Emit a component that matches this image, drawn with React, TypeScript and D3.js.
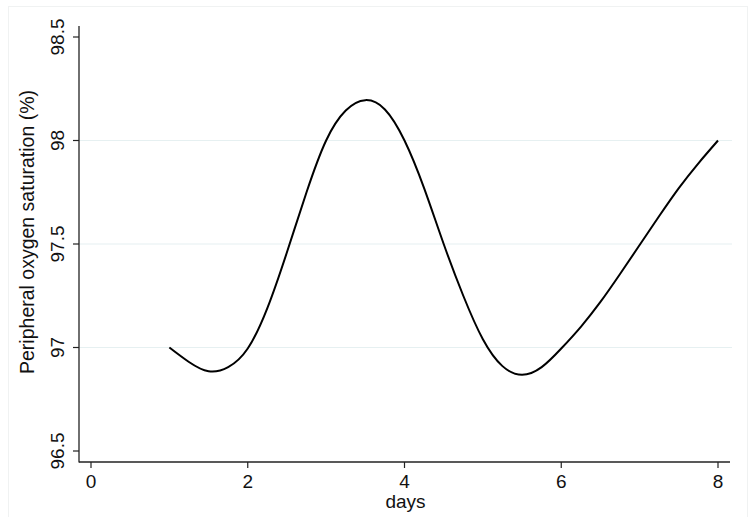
import React from "react";
import * as d3 from "d3";

const days = [1, 1.25, 1.5, 1.75, 2, 2.25, 2.5, 2.75, 3, 3.25, 3.5, 3.75, 4, 4.25, 4.5, 4.75, 5, 5.25, 5.5, 5.75, 6, 6.25, 6.5, 6.75, 7, 7.25, 7.5, 7.75, 8];
const spo2 = [97.0, 96.93, 96.885, 96.905, 96.995, 97.19, 97.46, 97.75, 98.0, 98.145, 98.195, 98.15, 98.0, 97.77, 97.5, 97.25, 97.04, 96.91, 96.868, 96.905, 96.995, 97.1, 97.22, 97.355, 97.495, 97.635, 97.77, 97.89, 98.0];
const xTicks = [0, 2, 4, 6, 8];
const yTicks = [96.5, 97, 97.5, 98, 98.5];
const gridValues = [97, 97.5, 98];
const xTitle = "days";
const yTitle = "Peripheral oxygen saturation (%)";

const W = 753;
const H = 517;

export default function App() {
  const x = d3.scaleLinear().domain([0, 8]).range([91, 718]);
  const y = d3.scaleLinear().domain([96.5, 98.5]).range([451, 37]);
  const plotLeft = 79;
  const plotRight = 730;
  const plotTop = 26;
  const plotBottom = 462;
  const pts: [number, number][] = days.map((d, i) => [d, spo2[i]]);
  const line = d3
    .line<[number, number]>()
    .x((d) => x(d[0]))
    .y((d) => y(d[1]))
    .curve(d3.curveNatural);
  const font = "'Liberation Sans', Arial, Helvetica, sans-serif";
  return (
    <svg
      width={W}
      height={H}
      style={{ position: "fixed", left: 0, top: 0, background: "#fff" }}
      fontFamily={font}
    >
      <rect x={0} y={0} width={W} height={H} fill="#fff" />
      <rect x={8.5} y={6.5} width={739} height={H} fill="none" stroke="#f0f2f2" strokeWidth={1} />
      {gridValues.map((v) => (
        <line key={v} x1={plotLeft} x2={plotRight + 2} y1={y(v)} y2={y(v)} stroke="#e6f0f1" strokeWidth={1.2} />
      ))}
      <line x1={plotLeft} x2={plotLeft} y1={plotTop} y2={plotBottom + 0.6} stroke="#222" strokeWidth={1.3} />
      <line x1={plotLeft} x2={plotRight} y1={plotBottom} y2={plotBottom} stroke="#222" strokeWidth={1.3} />
      {yTicks.map((v) => (
        <g key={v}>
          <line x1={plotLeft - 6} x2={plotLeft} y1={y(v)} y2={y(v)} stroke="#222" strokeWidth={1.2} />
          <text
            transform={`translate(${63.5},${y(v)}) rotate(-90)`}
            textAnchor="middle"
            fontSize={19}
            fill="#111"
          >
            {v}
          </text>
        </g>
      ))}
      {xTicks.map((v) => (
        <g key={v}>
          <line x1={x(v)} x2={x(v)} y1={plotBottom} y2={plotBottom + 6} stroke="#222" strokeWidth={1.2} />
          <text x={x(v)} y={487.5} textAnchor="middle" fontSize={19} fill="#111">
            {v}
          </text>
        </g>
      ))}
      <text x={(plotLeft + plotRight) / 2 + 1} y={507.5} textAnchor="middle" fontSize={19} fill="#111">
        {xTitle}
      </text>
      <text
        transform={`translate(${33.5},${232}) rotate(-90)`}
        textAnchor="middle"
        fontSize={19.5}
        fill="#111"
      >
        {yTitle}
      </text>
      <path d={line(pts) || ""} fill="none" stroke="#000" strokeWidth={2} strokeLinejoin="round" />
    </svg>
  );
}
